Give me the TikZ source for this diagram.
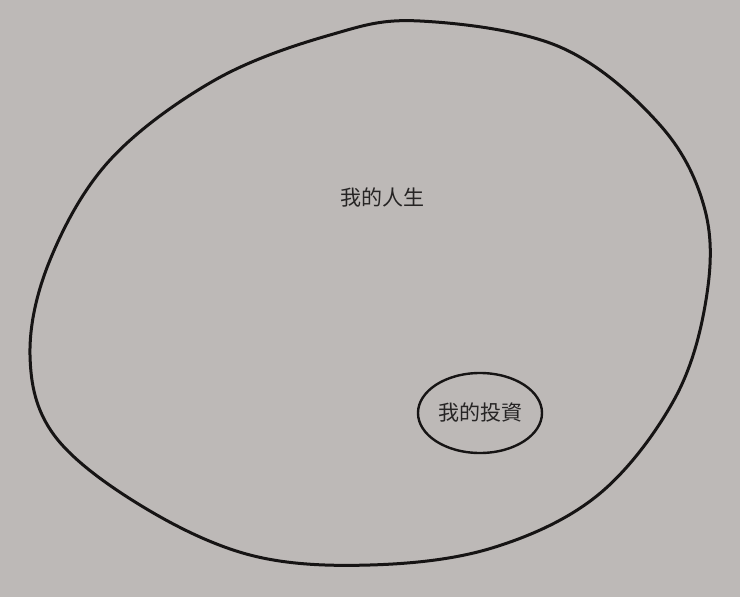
\documentclass[tikz,border=0pt]{standalone}
\usepackage{fontspec}
\newfontfamily\cjk{Noto Sans CJK TC}
\usetikzlibrary{shapes}
\usetikzlibrary{shapes.geometric}
\definecolor{paper}{RGB}{189,185,183}
\definecolor{ink}{RGB}{22,20,20}
\definecolor{txtink}{RGB}{38,36,36}
\tikzset{
	blobtext/.style = {align=center, inner sep=0pt, text centered,
		font=\cjk\fontsize{21pt}{24pt}\selectfont, text=txtink},
	blob_out/.style = {draw=ink, line width=3pt},% grand cercle
	blob_in/.style = {blobtext, ellipse, draw=ink, line width=2.4pt,
		minimum width=124pt, minimum height=80pt}% petit cercle
}
\begin{document}
\begin{tikzpicture}[x=1pt,y=-1pt]
		\fill[paper] (0,0) rectangle (740,597);
		\useasboundingbox (0,0) rectangle (740,597);
		\draw[blob_out] plot[smooth cycle, tension=0.6] coordinates {
			(420,21) (560,47) (660,125) (705,210) (706,300) (674,400)
			(598,495) (492,548) (370,565) (250,555) (140,505) (54,435)
			(30,355) (50,260) (110,160) (215,80) (330,35)};
		\node[blobtext] (life) at (382,198) {我的人生};
		\node[blob_in] (invest) at (480,413) {我的投資};
\end{tikzpicture}
\end{document}
